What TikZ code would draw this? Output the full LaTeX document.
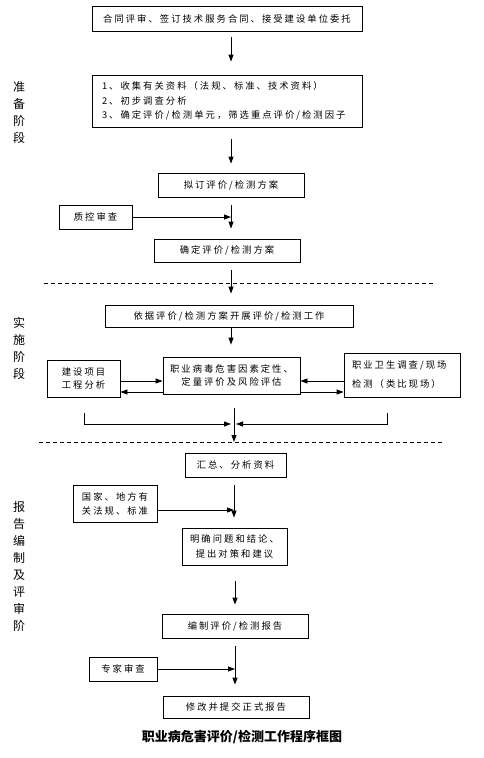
\documentclass[tikz,border=0pt]{standalone}
\usepackage{fontspec}
\setmainfont{Noto Sans CJK SC}[LetterSpace=22]
\newfontfamily\capfont{Noto Sans CJK SC}
\usetikzlibrary{arrows.meta}
\begin{document}
\begin{tikzpicture}[x=1pt,y=-1pt,
  box/.style={draw, line width=0.8pt, inner sep=0pt, align=center, font=\fontsize{9.3}{13}\selectfont},
  arr/.style={draw, line width=0.8pt, -{Triangle[length=7pt,width=5pt]}},
  ln/.style={draw, line width=0.8pt},
  side/.style={align=center, inner sep=0pt, font=\fontsize{12}{17}\selectfont},
  dash line/.style={line width=0.7pt, dash pattern=on 4pt off 3pt}]
\useasboundingbox (0,0) rectangle (484,758);
% boxes
\node[box, minimum width=270pt, minimum height=25pt] (b1) at (227,18.5) {合同评审、签订技术服务合同、接受建设单位委托};
\node[box, minimum width=270pt, minimum height=52pt, align=left, text width=250pt, font=\fontsize{9.3}{14.5}\selectfont] (b2) at (227,101)
  {1、收集有关资料（法规、标准、技术资料）\\2、初步调查分析\\3、确定评价/检测单元，筛选重点评价/检测因子};
\node[box, minimum width=146pt, minimum height=24pt] (b3) at (231,185) {拟订评价/检测方案};
\node[box, minimum width=73pt, minimum height=24pt] (qc) at (95.5,217) {质控审查};
\node[box, minimum width=146pt, minimum height=23pt] (b4) at (227,250.5) {确定评价/检测方案};
\node[box, minimum width=248pt, minimum height=22pt] (b5) at (229,316) {依据评价/检测方案开展评价/检测工作};
\node[box, minimum width=137pt, minimum height=37pt] (b6) at (231.5,375.5) {职业病毒危害因素定性、\\定量评价及风险评估};
\node[box, minimum width=73pt, minimum height=37pt] (b7) at (83.5,378.5) {建设项目\\工程分析};
\node[box, minimum width=116pt, minimum height=44pt, align=left, text width=100pt, font=\fontsize{9.3}{19}\selectfont] (b8) at (402,375) {职业卫生调查/现场\\检测（类比现场）};
\node[box, minimum width=101pt, minimum height=24pt] (b9) at (235.5,465) {汇总、分析资料};
\node[box, minimum width=84pt, minimum height=37pt, font=\fontsize{9.3}{14}\selectfont] (b10) at (115,503.5) {国家、地方有\\关法规、标准};
\node[box, minimum width=105pt, minimum height=37pt, font=\fontsize{9.3}{15}\selectfont] (b11) at (234.5,546.5) {明确问题和结论、\\提出对策和建议};
\node[box, minimum width=146pt, minimum height=24pt] (b12) at (235,626) {编制评价/检测报告};
\node[box, minimum width=68pt, minimum height=24pt] (b13) at (123,669) {专家审查};
\node[box, minimum width=146pt, minimum height=22pt] (b14) at (236,707) {修改并提交正式报告};
\node[inner sep=0pt, font=\capfont\bfseries\fontsize{13}{15}\selectfont] (cap) at (242,737) {职业病危害评价/检测工作程序框图};
% side labels
\node[side] (s1) at (19,113) {准\\备\\阶\\段};
\node[side] (s2) at (19,348) {实\\施\\阶\\段};
\node[side] (s3) at (19,566.5) {报\\告\\编\\制\\及\\评\\审\\阶};
% dashed separators
\draw[dash line] (44,283) -- (433,283);
\draw[dash line] (39,442) -- (442,442);
% column coordinates
\coordinate (c1) at (231,0);
\coordinate (c2) at (234,0);
\coordinate (c3) at (235,0);
\coordinate (ya) at (0,381);
\coordinate (yb) at (0,392);
\coordinate (yc) at (0,510);
% vertical arrows
\draw[arr, shorten <=6pt, shorten >=13pt] (b1.south -| c1) -- (b2.north -| c1);
\draw[arr, shorten <=12pt, shorten >=9pt] (b2.south -| c1) -- (b3.north -| c1);
\draw[arr, shorten <=8pt, shorten >=10pt] (b3.south -| c1) -- (b4.north -| c1);
\draw[arr] (qc.east) -- (qc.east -| c1);
\draw[arr, shorten <=8pt, shorten >=11pt] (b4.south -| c1) -- (b5.north -| c1);
\draw[arr, shorten <=1pt, shorten >=12pt] (b5.south -| c1) -- (b6.north -| c1);
% side exchanges
\draw[arr] (b7.east |- ya) -- (b6.west |- ya);
\draw[arr] (b6.west |- yb) -- (b7.east |- yb);
\draw[arr] (b8.west |- ya) -- (b6.east |- ya);
\draw[arr] (b6.east |- yb) -- (b8.west |- yb);
% collector
\coordinate (cd) at (234,442);
\coordinate (lt) at (84,413);
\coordinate (lb) at (84,424);
\coordinate (rt) at (387,413);
\coordinate (rb) at (387,424);
\draw[arr, shorten <=14pt] (b6.south -| cd) -- (cd);
\draw[arr] (lt) -- (lb) -- (lb -| c1);
\draw[arr] (rt) -- (rb) -- ([xshift=2pt]rb -| c2);
% report stage
\draw[arr, shorten <=8pt, shorten >=10pt] (b9.south -| c2) -- (b11.north -| c2);
\draw[arr] (b10.east |- yc) -- (c2 |- yc);
\draw[arr, shorten <=16pt, shorten >=9pt] (b11.south -| c3) -- (b12.north -| c3);
\draw[arr, shorten <=8pt, shorten >=11pt] (b12.south -| c3) -- (b14.north -| c3);
\draw[arr] (b13.east) -- (b13.east -| c3);
\end{tikzpicture}
\end{document}
